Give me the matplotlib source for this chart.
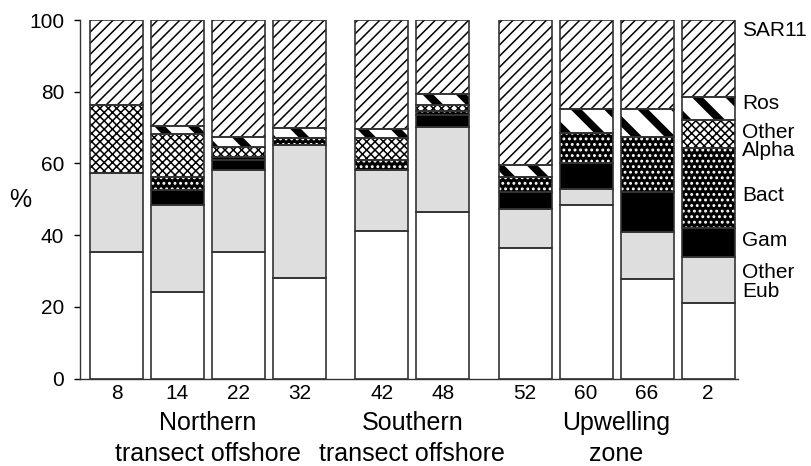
import matplotlib
matplotlib.use('Agg')
import matplotlib.pyplot as plt
import numpy as np

plt.rcParams['font.family'] = ['Liberation Sans', 'DejaVu Sans']

stations = ['8', '14', '22', '32', '42', '48', '52', '60', '66', '2']
groups = ['Northern\ntransect offshore', 'Southern\ntransect offshore', 'Upwelling\nzone']
group_sizes = [4, 2, 4]

# % of total, bottom to top
unassigned  = [35.2, 24.0, 35.2, 27.9, 41.1, 46.4, 36.3, 48.4, 27.8, 21.0]
other_eub   = [22.0, 24.4, 23.0, 37.2, 17.1, 23.8, 11.0,  4.5, 13.2, 13.0]
gam         = [ 0.0,  4.2,  2.7,  0.0,  0.0,  3.3,  4.8,  7.1, 11.1,  8.1]
bact        = [ 0.0,  3.7,  1.0,  1.9,  2.7,  1.0,  4.2,  8.4, 15.3, 22.1]
other_alpha = [19.0, 11.9,  2.8,  0.0,  6.1,  1.8,  0.0,  0.0,  0.0,  7.9]
ros         = [ 0.0,  2.3,  2.8,  2.8,  2.5,  3.1,  3.3,  6.8,  7.8,  6.5]
sar11       = [23.8, 29.5, 32.5, 30.2, 30.5, 20.6, 40.4, 24.8, 24.8, 21.4]

# (values, face, hatch, hatch colour, hatch linewidth)
layers = [
    (unassigned,  'white',   None,   'black', 1.0),
    (other_eub,   '#dedede', None,   'black', 1.0),
    (gam,         'black',   None,   'black', 1.0),
    (bact,        'black',   '...',  'white', 1.3),
    (other_alpha, 'white',   'xxxx', 'black', 1.1),
    (ros,         'white',   '\\',   'black', 5.5),
    (sar11,       'white',   '///',  'black', 1.1),
]

labels = [('SAR11', 97.2), ('Ros', 76.8), ('Other\nAlpha', 66.2),
          ('Bact', 51.0), ('Gam', 38.6), ('Other\nEub', 26.9)]

# bar positions with a gap between groups
gap = 0.35
x = []
pos = 0.0
for gi, n in enumerate(group_sizes):
    for i in range(n):
        x.append(pos)
        pos += 1
    pos += gap
x = np.array(x)
width = 0.87

fig = plt.figure(figsize=(8.11, 4.66), dpi=100)
ax = fig.add_axes([80/811, 1 - 378.5/466, 658/811, 358.5/466])

bottom = np.zeros(len(x))
for vals, fc, hatch, hc, hlw in layers:
    vals = np.array(vals)
    with plt.rc_context({'hatch.linewidth': hlw}):
        bars = ax.bar(x, vals, width, bottom=bottom, color=fc, edgecolor=hc,
                      linewidth=0, hatch=hatch, zorder=2)
    for b in bars:
        if hasattr(b, 'set_hatch_linewidth'):
            b.set_hatch_linewidth(hlw)
    ax.bar(x, vals, width, bottom=bottom, fill=False, edgecolor='#333333',
           linewidth=1.2, zorder=3)
    bottom += vals

ax.set_xlim(-0.598, 10.19)
ax.set_ylim(0, 100)
ax.set_yticks([0, 20, 40, 60, 80, 100])
ax.set_xticks(x)
ax.set_xticklabels(stations, fontsize=15)
ax.tick_params(axis='x', length=0, pad=4)
ax.tick_params(axis='y', direction='out', length=4.5, width=1, pad=7, labelsize=15)
ax.spines['top'].set_visible(False)
ax.spines['right'].set_visible(False)
for s in ['left', 'bottom']:
    ax.spines[s].set_linewidth(1.0)
    ax.spines[s].set_color('#333333')

# group labels under the station numbers
start = 0
for name, n in zip(groups, group_sizes):
    cx = (x[start] + x[start + n - 1]) / 2
    ax.text(cx, -0.09, name, transform=ax.get_xaxis_transform(), ha='center',
            va='top', fontsize=18, linespacing=1.38)
    start += n

# category labels on the right
for name, yv in labels:
    ax.text(1.006, yv, name, transform=ax.get_yaxis_transform(), ha='left',
            va='center', fontsize=15, linespacing=0.95, clip_on=False)

fig.text(20/811, 1 - 200/466, '%', ha='center', va='center', fontsize=18)

fig.savefig('out.png', dpi=100)
